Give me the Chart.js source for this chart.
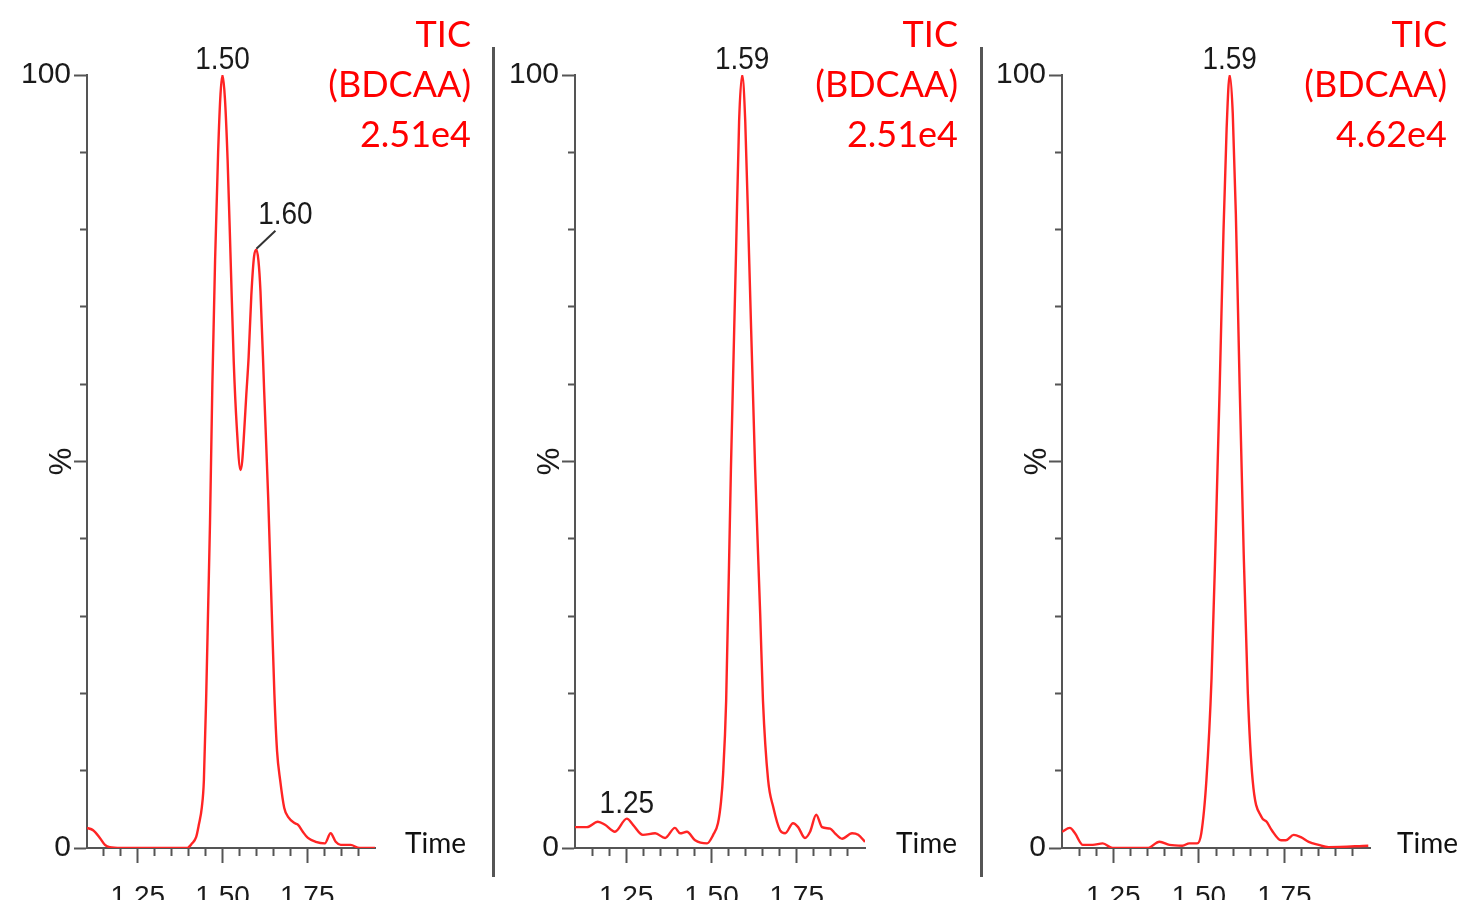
<!DOCTYPE html>
<html>
<head>
<meta charset="utf-8">
<title>TIC (BDCAA)</title>
<script src="https://cdn.jsdelivr.net/npm/chart.js@4.4.1/dist/chart.umd.min.js"></script>
<style>
    body { margin: 0; background: #fff; width: 1464px; height: 900px; overflow: hidden; position: relative; }
    canvas { position: absolute; top: 0; }
    .divider { position: absolute; top: 47px; height: 830px; width: 3px; background: #555; z-index: 2; }
    .tic { position: absolute; top: 8px; width: 180px; font-family: Lato, sans-serif; font-size: 36px; line-height: 50px; color: #f00; text-align: right; }
    .time { position: absolute; top: 828px; font-family: Lato, sans-serif; font-size: 28px; line-height: 28px; color: #111; }
</style>
</head>
<body>

<canvas id="chart1" width="490" height="900" style="left:0px"></canvas>
<canvas id="chart2" width="490" height="900" style="left:490px"></canvas>
<canvas id="chart3" width="484" height="900" style="left:980px"></canvas>

<div class="divider" style="left:492px"></div>
<div class="divider" style="left:980px"></div>

<div class="tic" style="left:291px">TIC<br>(BDCAA)<br>2.51e4</div>
<div class="tic" style="left:778px">TIC<br>(BDCAA)<br>2.51e4</div>
<div class="tic" style="left:1267px">TIC<br>(BDCAA)<br>4.62e4</div>

<div class="time" style="left:405px">Time</div>
<div class="time" style="left:896px">Time</div>
<div class="time" style="left:1397px">Time</div>

<script>
// Trace 1 - retention time (min) and relative intensity (%)
const times1 = [1.100, 1.118, 1.138, 1.153, 1.167, 1.200, 1.250, 1.300, 1.350, 1.395,
    1.410, 1.422, 1.430, 1.439, 1.445, 1.452, 1.458, 1.463, 1.470, 1.478,
    1.487, 1.494, 1.500, 1.507, 1.515, 1.524, 1.533, 1.542, 1.553, 1.558,
    1.564, 1.570, 1.577, 1.585, 1.593, 1.600, 1.606, 1.612, 1.623, 1.635,
    1.645, 1.653, 1.661, 1.670, 1.682, 1.694, 1.714, 1.723, 1.737, 1.752,
    1.775, 1.802, 1.819, 1.834, 1.849, 1.878, 1.904, 1.950];
const intensity1 = [2.6, 2.3, 1.3, 0.4, 0.1, 0, 0, 0, 0, 0,
    0.6, 1.4, 3.0, 5.3, 8.8, 20, 32, 42, 60, 76,
    90, 97.5, 100, 97, 89, 76, 63, 54.5, 48.9, 50,
    54, 58.5, 63.5, 71.5, 76.5, 77.4, 76, 72, 59, 45,
    31, 20, 12.5, 8.8, 5.2, 4.0, 3.2, 3.0, 2.1, 1.3,
    0.8, 0.6, 1.9, 0.8, 0.4, 0.4, 0, 0];

// Trace 2
const times2 = [1.100, 1.135, 1.167, 1.188, 1.217, 1.252, 1.270, 1.299, 1.335, 1.364,
    1.393, 1.408, 1.428, 1.452, 1.487, 1.505, 1.519, 1.528, 1.534, 1.543,
    1.557, 1.572, 1.581, 1.590, 1.599, 1.610, 1.628, 1.643, 1.651, 1.666,
    1.681, 1.701, 1.716, 1.739, 1.754, 1.774, 1.789, 1.807, 1.824, 1.848,
    1.862, 1.883, 1.912, 1.930, 1.950];
const intensity2 = [2.7, 2.7, 3.4, 3.0, 2.1, 3.8, 3.0, 1.7, 1.9, 1.3,
    2.6, 1.9, 2.1, 1.0, 0.6, 1.7, 3.2, 6.0, 9.5, 19,
    49, 77, 94, 100, 94, 77, 49, 30, 19, 8.8,
    5.3, 2.3, 1.9, 3.2, 2.7, 1.3, 2.1, 4.3, 2.7, 2.5,
    1.9, 1.2, 1.9, 1.7, 0.8];

// Trace 3
const times3 = [1.100, 1.123, 1.138, 1.161, 1.190, 1.219, 1.248, 1.300, 1.350, 1.385,
    1.414, 1.452, 1.472, 1.495, 1.507, 1.522, 1.537, 1.549, 1.561, 1.572,
    1.581, 1.590, 1.599, 1.608, 1.619, 1.631, 1.643, 1.657, 1.683, 1.698,
    1.713, 1.740, 1.754, 1.777, 1.798, 1.821, 1.850, 1.879, 1.995];
const intensity3 = [2.1, 2.6, 1.9, 0.4, 0.4, 0.6, 0, 0, 0, 0.8,
    0.4, 0.3, 0.6, 0.6, 1.9, 8.8, 22, 40, 60, 80,
    93, 100, 95, 82, 60, 38, 20, 8.8, 4.0, 3.4,
    2.3, 1.0, 1.0, 1.7, 1.4, 0.8, 0.4, 0.1, 0.3];

// Labelled peaks
const peakTimes1 = [1.50, 1.60];
const peakValues1 = [100, 77.4];
const peakLabels1 = ['1.50', '1.60'];
const peakTimes2 = [1.252, 1.59];
const peakValues2 = [3.8, 100];
const peakLabels2 = ['1.25', '1.59'];
const peakTimes3 = [1.59];
const peakValues3 = [100];
const peakLabels3 = ['1.59'];

// Axis ranges and tick labels
const xRange1 = [1.10, 1.95];
const xRange2 = [1.10, 1.95];
const xRange3 = [1.10, 2.00];
const xTickLabels = ['1.25', '1.50', '1.75'];
const yTickLabels = ['0', '100'];

const axisColor = '#555';
const textColor = '#1a1a1a';

// Draw peak labels and the rotated '%' axis label
const peakLabelPlugin = {
    id: 'peakLabels',
    afterDatasetsDraw(chart, args, opts) {
        const ctx = chart.ctx;
        const xs = chart.scales.x;
        const ys = chart.scales.y;
        ctx.save();
        ctx.font = '28px "Liberation Sans"';
        ctx.fillStyle = textColor;
        ctx.textAlign = 'center';
        ctx.textBaseline = 'alphabetic';
        opts.times.forEach((t, i) => {
            const px = xs.getPixelForValue(t);
            const py = ys.getPixelForValue(opts.values[i]);
            const lead = opts.leaders ? opts.leaders[i] : null;
            let tx = px, ty = py - 6;
            if (lead) {
                // leader line from the peak to its label
                ctx.strokeStyle = '#333';
                ctx.lineWidth = 2;
                ctx.beginPath();
                ctx.moveTo(px, py - 1);
                ctx.lineTo(px + lead[0], py + lead[1]);
                ctx.stroke();
                tx = px + lead[0] + 10;
                ty = py + lead[1] - 7;
            }
            ctx.save();
            ctx.translate(tx, ty);
            ctx.scale(1, 1.12);
            ctx.fillText(opts.texts[i], 0, 0);
            ctx.restore();
        });

        // '%' next to the 50 tick
        ctx.save();
        ctx.translate(chart.chartArea.left - 25, ys.getPixelForValue(50));
        ctx.rotate(-Math.PI / 2);
        ctx.textBaseline = 'middle';
        ctx.font = '31px "Liberation Sans"';
        ctx.fillText('%', 0, 0);
        ctx.restore();
        ctx.restore();
    }
};

function isMultiple(v, step) {
    return Math.abs(v / step - Math.round(v / step)) < 1e-6;
}

function makePanel(canvasId, times, values, range, peaks, pad) {
    const points = times.map((t, i) => ({ x: t, y: values[i] }));

    return new Chart(document.getElementById(canvasId), {
        type: 'line',
        data: {
            datasets: [{
                data: points,
                borderColor: '#ff2424',
                borderWidth: 2.4,
                pointRadius: 0,
                fill: false,
                cubicInterpolationMode: 'monotone'
            }]
        },
        options: {
            responsive: false,
            animation: false,
            layout: { padding: pad },
            plugins: {
                legend: { display: false },
                tooltip: { enabled: false },
                peakLabels: peaks
            },
            scales: {
                x: {
                    type: 'linear',
                    min: range[0],
                    max: range[1],
                    afterFit(scale) { scale.height = 52; },
                    border: { display: true, color: axisColor, width: 2 },
                    grid: {
                        drawOnChartArea: false,
                        drawTicks: true,
                        tickLength: 15,
                        tickWidth: 2,
                        // hide ticks at the ends of the axis
                        tickColor: c => (Math.abs(c.tick.value - range[0]) < 1e-6 || Math.abs(c.tick.value - range[1]) < 1e-6) ? 'rgba(0,0,0,0)' : axisColor,
                        // minor ticks are shorter than the 0.25 ones
                        tickBorderDash: c => isMultiple(c.tick.value, 0.25) ? [] : [7, 40]
                    },
                    ticks: {
                        stepSize: 0.05,
                        autoSkip: false,
                        maxRotation: 0,
                        padding: 17,
                        color: textColor,
                        font: { family: 'Liberation Sans', size: 28 },
                        callback: v => {
                            const s = Number(v).toFixed(2);
                            return xTickLabels.includes(s) ? s : '';
                        }
                    }
                },
                y: {
                    min: 0,
                    max: 100,
                    afterFit(scale) { scale.width = 70; },
                    border: { display: true, color: axisColor, width: 2 },
                    grid: {
                        drawOnChartArea: false,
                        drawTicks: true,
                        tickLength: 13,
                        tickWidth: 2,
                        tickColor: axisColor,
                        tickBorderDash: c => isMultiple(c.tick.value, 50) ? [] : [0, 6, 7, 0]
                    },
                    ticks: {
                        stepSize: 10,
                        autoSkip: false,
                        padding: 3,
                        color: textColor,
                        font: { family: 'Liberation Sans', size: 30 },
                        callback: v => yTickLabels.includes(String(v)) ? String(v) : ''
                    }
                }
            }
        },
        plugins: [peakLabelPlugin]
    });
}

makePanel('chart1', times1, intensity1, xRange1,
    { times: peakTimes1, values: peakValues1, texts: peakLabels1, leaders: [null, [19, -19]] },
    { left: 17, right: 115, top: 75, bottom: 0 });
makePanel('chart2', times2, intensity2, xRange2,
    { times: peakTimes2, values: peakValues2, texts: peakLabels2 },
    { left: 15, right: 115, top: 75, bottom: 0 });
makePanel('chart3', times3, intensity3, xRange3,
    { times: peakTimes3, values: peakValues3, texts: peakLabels3 },
    { left: 12, right: 94, top: 75, bottom: 0 });
</script>
</body>
</html>
